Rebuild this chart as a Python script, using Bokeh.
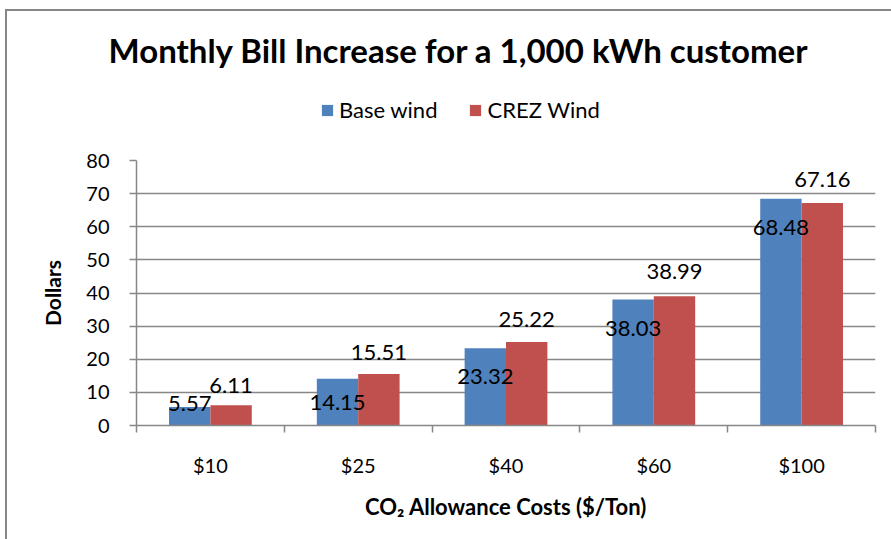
from bokeh.plotting import figure
from bokeh.layouts import column
from bokeh.models import (ColumnDataSource, FixedTicker, Legend, LegendItem,
                          LabelSet, Range1d, Div)
from bokeh.transform import dodge
from bokeh.core.properties import value
from bokeh.embed import file_html
from bokeh.resources import INLINE

# ---- data ----
categories = ["$10", "$25", "$40", "$60", "$100"]
base_wind = [5.57, 14.15, 23.32, 38.03, 68.48]
crez_wind = [6.11, 15.51, 25.22, 38.99, 67.16]
y_ticks = [0, 10, 20, 30, 40, 50, 60, 70, 80]
series_names = ["Base wind", "CREZ Wind"]
title_text = "Monthly Bill Increase for a 1,000 kWh customer"
x_title = "CO\u2082 Allowance Costs ($/Ton)"
y_title = "Dollars"

# label placement offsets (pixels, up positive) as in the original
base_label_dy = [4, -24, -28, -29, -29]
crez_label_dy = [20, 22, 22, 25, 24]

FONT = "Lato"
BLUE = "#4F81BD"
RED = "#C0504D"
GREY = "#878787"

W = 891
TITLE_H = 80
LEG_H = 60
MAIN_H = 539 - TITLE_H - LEG_H

n = len(categories)
centers = [i + 0.5 for i in range(n)]

src = ColumnDataSource(dict(
    x=centers, base=base_wind, crez=crez_wind,
    base_txt=[f"{v:.2f}" for v in base_wind],
    crez_txt=[f"{v:.2f}" for v in crez_wind],
    base_dy=base_label_dy, crez_dy=crez_label_dy,
))

LEFT_LINE = f"linear-gradient({GREY},{GREY}) 5px 0px / 2px 100% no-repeat, #ffffff"

# ---------------- title ----------------
title_div = Div(
    text=(f'<div style="font-family:{FONT}; font-weight:bold; font-size:33px; '
          f'line-height:40px; padding-top:30px; margin-left:25px; width:{W - 25}px; '
          f'text-align:center; white-space:nowrap; color:black;">{title_text}</div>'),
    width=W, height=TITLE_H,
    styles={"background": (f"linear-gradient({GREY},{GREY}) 5px 9px / 2px calc(100% - 9px) no-repeat, "
                           f"linear-gradient({GREY},{GREY}) 5px 9px / calc(100% - 5px) 2px no-repeat, "
                           "#ffffff"),
            "margin": "0", "padding": "0"})

# ---------------- legend strip ----------------
leg = figure(width=W, height=LEG_H, x_range=Range1d(0, 1), y_range=Range1d(0, 1),
             output_backend="svg", toolbar_location=None,
             x_axis_location=None, y_axis_location=None,
             min_border_left=136, min_border_right=16, min_border_top=0, min_border_bottom=0)
leg.grid.visible = False
leg.outline_line_color = None
leg.background_fill_color = None
leg.border_fill_color = None
leg.styles = {"background": LEFT_LINE}

k1 = leg.vbar(x="x", top="base", width=0.1, source=src, fill_color=BLUE,
              line_color=None, visible=False)
k2 = leg.vbar(x="x", top="crez", width=0.1, source=src, fill_color=RED,
              line_color=None, visible=False)
legend = Legend(items=[LegendItem(label=series_names[0], renderers=[k1]),
                       LegendItem(label=series_names[1], renderers=[k2])],
                orientation="horizontal", location=(184, 17))
legend.background_fill_alpha = 0
legend.border_line_color = None
legend.inactive_fill_alpha = 0
legend.padding = 0
legend.margin = 0
legend.spacing = 31
legend.glyph_width = 14
legend.glyph_height = 14
legend.label_standoff = 5
legend.label_text_font = FONT
legend.label_text_font_size = "22px"
legend.label_text_color = "black"
leg.add_layout(legend, "center")

# ---------------- main chart ----------------
p = figure(width=W, height=MAIN_H, x_range=Range1d(0, n), y_range=Range1d(0, 80),
           output_backend="svg", toolbar_location=None,
           min_border_left=136, min_border_right=16,
           min_border_top=20, min_border_bottom=114)
p.outline_line_color = None
p.background_fill_color = "white"
p.border_fill_color = None
p.styles = {"background": LEFT_LINE}

bw = 0.28
off = 0.14
p.vbar(x=dodge("x", -off), top="base", width=bw, source=src,
       fill_color=BLUE, line_color=None)
p.vbar(x=dodge("x", off), top="crez", width=bw, source=src,
       fill_color=RED, line_color=None)

# grid
p.xgrid.visible = False
p.ygrid.ticker = FixedTicker(ticks=y_ticks)
p.ygrid.grid_line_color = GREY
p.ygrid.grid_line_width = 1.5

# y axis
ya = p.yaxis[0]
ya.ticker = FixedTicker(ticks=y_ticks)
ya.axis_line_color = GREY
ya.axis_line_width = 1.5
ya.major_tick_line_color = GREY
ya.major_tick_line_width = 1.5
ya.major_tick_out = 7
ya.major_tick_in = 0
ya.minor_tick_line_color = None
ya.major_label_text_font = FONT
ya.major_label_text_font_size = "20px"
ya.major_label_text_color = "black"
ya.major_label_standoff = 20
ya.axis_label = y_title
ya.axis_label_text_font = FONT
ya.axis_label_text_font_style = "bold"
ya.axis_label_text_font_size = "21px"
ya.axis_label_text_color = "black"
ya.axis_label_standoff = 18

# x axis
xa = p.xaxis[0]
xa.ticker = FixedTicker(ticks=centers, minor_ticks=list(range(n + 1)))
xa.major_label_overrides = {c: cat for c, cat in zip(centers, categories)}
xa.axis_line_color = GREY
xa.axis_line_width = 1.5
xa.major_tick_line_color = None
xa.major_tick_out = 0
xa.major_tick_in = 0
xa.minor_tick_line_color = GREY
xa.minor_tick_line_width = 1.5
xa.minor_tick_out = 7
xa.minor_tick_in = 0
xa.major_label_text_font = FONT
xa.major_label_text_font_size = "20px"
xa.major_label_text_color = "black"
xa.major_label_standoff = 20
xa.axis_label = x_title
xa.axis_label_text_font = FONT
xa.axis_label_text_font_style = "bold"
xa.axis_label_text_font_size = "22px"
xa.axis_label_text_color = "black"
xa.axis_label_standoff = 13

# data labels
for xs, ycol, tcol, dycol in [(dodge("x", -off), "base", "base_txt", "base_dy"),
                              (dodge("x", off), "crez", "crez_txt", "crez_dy")]:
    p.add_layout(LabelSet(x=xs, y=ycol, text=tcol, y_offset=dycol, source=src,
                          text_align="center", text_baseline="middle",
                          text_font=value(FONT), text_font_size="22px",
                          text_color="black"))

layout = column(title_div, leg, p, spacing=0)
open("out.html", "w").write(file_html(layout, INLINE))
